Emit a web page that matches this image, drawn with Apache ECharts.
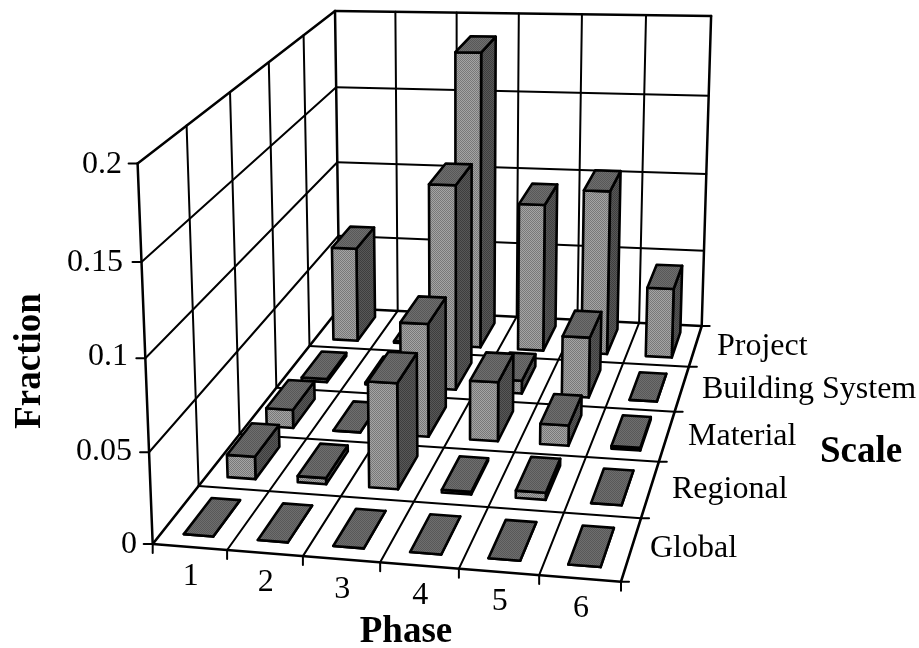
<!DOCTYPE html>
<html><head><meta charset="utf-8">
<style>html,body{margin:0;padding:0;background:#fff}#c{width:919px;height:648px}</style>
<script src="https://cdn.jsdelivr.net/npm/echarts@6/dist/echarts.min.js"></script>
</head><body><div id="c"></div>
<script>
// ---- data ----
const phases = ['1','2','3','4','5','6'];
const scales = ['Global','Regional','Material','Building System','Project'];
const zTicks = [0,0.05,0.1,0.15,0.2];
const zTickLabels = ['0','0.05','0.1','0.15','0.2'];
const globalValues   = [0,0,0,0,0,0];
const regionalValues = [0.013,0.0035,0.06,0.0015,0.004,0];
const materialValues = [0.011,0,0.067,0.035,0.012,0.0015];
const buildingValues = [0.002,0.001,0.126,0.008,0.037,0];
const projectValues  = [0.061,0.001,0.188,0.094,0.104,0.044];
const seriesValues = [globalValues,regionalValues,materialValues,buildingValues,projectValues];

// ---- projection layout: floor corners and wall tops, in pixels ----
const NX = phases.length, NY = scales.length, ZMAX = 0.2;
const floorCorners = [[0,0,152.7,544],[NX,0,621,581.7],[NX,NY,701.7,326],[0,NY,339.5,308]];
const topCorners = [[0,0,139.5,163.5],[0,NY,333,7],[NX,NY,711.7,20]];

function solve(A,b){
  const n=b.length, M=A.map((r,i)=>r.concat([b[i]]));
  for(let i=0;i<n;i++){
    let p=i; for(let k=i+1;k<n;k++) if(Math.abs(M[k][i])>Math.abs(M[p][i])) p=k;
    [M[i],M[p]]=[M[p],M[i]];
    for(let k=0;k<n;k++){ if(k===i) continue; const f=M[k][i]/M[i][i];
      for(let j=i;j<=n;j++) M[k][j]-=f*M[i][j]; }
  }
  return M.map((r,i)=>r[n]/r[i]);
}
const A8=[],b8=[];
floorCorners.forEach(([x,y,u,v])=>{
  A8.push([x,y,1,0,0,0,-u*x,-u*y]); b8.push(u);
  A8.push([0,0,0,x,y,1,-v*x,-v*y]); b8.push(v);
});
const h=solve(A8,b8); h.push(1);
function floorH(x,y){return [h[0]*x+h[1]*y+h[2],h[3]*x+h[4]*y+h[5],h[6]*x+h[7]*y+h[8]];}
// least squares for the height column
const N=[[0,0,0],[0,0,0],[0,0,0]],R=[0,0,0];
function addEq(a,r){for(let i=0;i<3;i++){R[i]+=a[i]*r;for(let j=0;j<3;j++)N[i][j]+=a[i]*a[j];}}
topCorners.forEach(([x,y,u,v])=>{
  const f=floorH(x,y);
  addEq([ZMAX,0,-u*ZMAX],u*f[2]-f[0]);
  addEq([0,ZMAX,-v*ZMAX],v*f[2]-f[1]);
});
const c=solve(N,R);
function P(x,y,z){
  const f=floorH(x,y), w=f[2]+z*c[2];
  return [(f[0]+z*c[0])/w,(f[1]+z*c[1])/w];
}

// ---- fills ----
function pattern(a,b){
  const cv=document.createElement('canvas');cv.width=cv.height=2;
  const g=cv.getContext('2d');g.fillStyle=a;g.fillRect(0,0,2,2);
  g.fillStyle=b;g.fillRect(0,0,1,1);g.fillRect(1,1,1,1);
  return {image:cv,repeat:'repeat'};
}
const frontFill=pattern('#a4a4a4','#787878');
const topFill=pattern('#6e6e6e','#585858');
const sideFill=pattern('#585858','#3e3e3e');

const LINE='#000';
function seg(a,b,w){return {type:'line',shape:{x1:a[0],y1:a[1],x2:b[0],y2:b[1]},style:{stroke:LINE,lineWidth:w||2,lineCap:'round'},silent:true};}
function poly(pts,fill){return {type:'polygon',shape:{points:pts},style:{fill:fill,stroke:LINE,lineWidth:2.6,lineJoin:'round'},silent:true};}
const SERIF='"Liberation Serif","Times New Roman",serif';
function txt(s,x,y,align,size,bold,rot){
  return {type:'text',x:x,y:y,rotation:rot||0,style:{text:s,x:0,y:0,align:align,verticalAlign:'middle',fill:'#000',font:(bold?'bold ':'')+size+'px '+SERIF},silent:true};
}

function renderFrame(){
  const ch=[];
  zTicks.forEach((z,i)=>{
    if(i>0) ch.push(seg(P(0,0,z),P(0,NY,z),i===zTicks.length-1?2.5:2));
    if(i>0) ch.push(seg(P(0,NY,z),P(NX,NY,z),i===zTicks.length-1?2.5:2));
    const a=P(0,0,z); ch.push(seg(a,[a[0]-9,a[1]],2));
  });
  for(let y=1;y<NY;y++) ch.push(seg(P(0,y,0),P(0,y,ZMAX),2));
  for(let x=1;x<NX;x++) ch.push(seg(P(x,NY,0),P(x,NY,ZMAX),2));
  ch.push(seg(P(0,0,0),P(0,0,ZMAX),2.5));
  ch.push(seg(P(0,NY,0),P(0,NY,ZMAX),2.5));
  ch.push(seg(P(NX,NY,0),P(NX,NY,ZMAX),2.5));
  for(let x=0;x<=NX;x++){
    ch.push(seg(P(x,0,0),P(x,NY,0),(x===0||x===NX)?2.6:2));
    const a=P(x,0,0); ch.push(seg(a,[a[0],a[1]+9],2));
  }
  for(let y=0;y<=NY;y++){
    const a=P(NX,y,0);
    ch.push(seg(P(0,y,0),a,y===0||y===NY?2.6:2));
    ch.push(seg(a,[a[0]+8,a[1]],2));
  }
  return {type:'group',children:ch};
}
const scaleLabelPos=[[650,549],[672,490],[688,437],[702,390],[717,347]];
const zLabelPos=[[137,545],[132,452],[128,357],[123,263],[122,165]];
function renderLabels(){
  const ch=[];
  zTicks.forEach((z,i)=>ch.push(txt(zTickLabels[i],zLabelPos[i][0],zLabelPos[i][1],'right',32)));
  phases.forEach((p,i)=>{const a=P(i+0.5,0,0);ch.push(txt(p,a[0]+1,a[1]+30,'center',32));});
  scales.forEach((s,i)=>ch.push(txt(s,scaleLabelPos[i][0],scaleLabelPos[i][1],'left',32)));
  ch.push(txt('Phase',406,632,'center',37,true));
  ch.push(txt('Scale',861,452,'center',37,true));
  ch.push(txt('Fraction',30,361,'center',37,true,Math.PI/2));
  return {type:'group',children:ch};
}
const BX=0.3,BY=0.19;
function renderBar(params,api){
  const i=api.value(0),j=api.value(1),v=api.value(2);
  const x0=i+BX,x1=i+1-BX,y0=j+BY,y1=j+1-BY;
  const fl=P(x0,y0,v),fr=P(x1,y0,v),bl=P(x0,y1,v),br=P(x1,y1,v);
  const fl0=P(x0,y0,0),fr0=P(x1,y0,0),br0=P(x1,y1,0);
  return {type:'group',children:[
    poly([fr,br,br0,fr0],sideFill),
    poly([fl,fr,fr0,fl0],frontFill),
    poly([fl,fr,br,bl],topFill)
  ]};
}
const barData=[];
for(let j=NY-1;j>=0;j--) for(let i=0;i<NX;i++) barData.push([i,j,seriesValues[j][i]]);

const chart=echarts.init(document.getElementById('c'),null,{renderer:'canvas'});
chart.setOption({
  backgroundColor:'#fff',animation:false,
  series:[
    {type:'custom',name:'frame',coordinateSystem:'none',data:[[0]],renderItem:renderFrame,silent:true,z:1},
    {type:'custom',name:'Fraction',coordinateSystem:'none',data:barData,dimensions:['phase','scale','fraction'],renderItem:renderBar,silent:true,z:2},
    {type:'custom',name:'labels',coordinateSystem:'none',data:[[0]],renderItem:renderLabels,silent:true,z:3}
  ]
});
</script></body></html>
